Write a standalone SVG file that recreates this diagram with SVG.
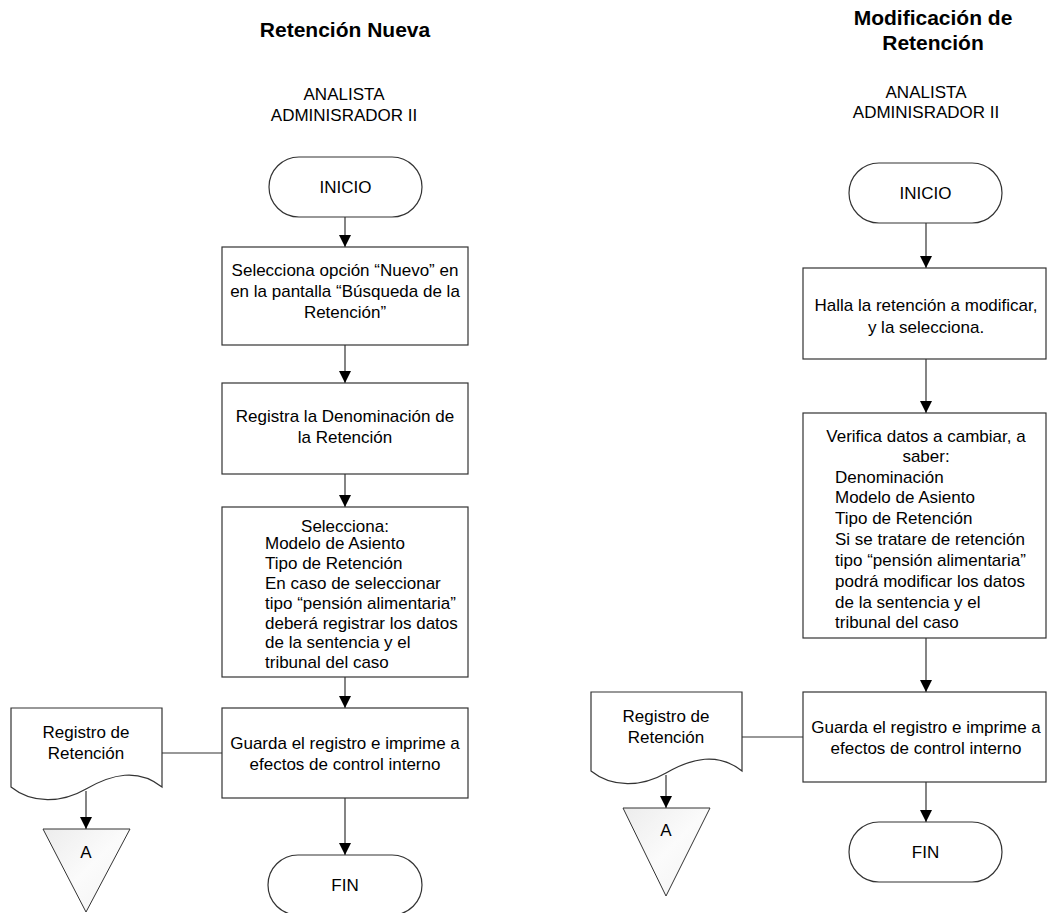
<svg xmlns="http://www.w3.org/2000/svg" width="1047" height="913" viewBox="0 0 1047 913">
<defs>
<style>
.t{font-family:"Liberation Sans",Arial,sans-serif;font-size:17px;fill:#000}
.c{text-anchor:middle}
.h{font-family:"Liberation Sans",Arial,sans-serif;font-size:21px;font-weight:bold;text-anchor:middle;fill:#000}
.s{fill:#fff;stroke:#333;stroke-width:1.2}
.cn{fill:none;stroke:#333;stroke-width:1.2}
.tri{fill:url(#g);stroke:#333;stroke-width:1}
</style>
<marker id="ar" markerUnits="userSpaceOnUse" markerWidth="12" markerHeight="14" refX="12" refY="6" orient="auto">
<path d="M0,0 L12,6 L0,12 z" fill="#000"/>
</marker>
<linearGradient id="g" x1="0" y1="0" x2="1" y2="1">
<stop offset="0" stop-color="#ececec"/>
<stop offset="0.5" stop-color="#fbfbfb"/>
<stop offset="1" stop-color="#f2f2f2"/>
</linearGradient>
</defs>
<rect width="1047" height="913" fill="#fff"/>

<g id="headers">
<text class="h" x="345" y="37">Retención Nueva</text>
<text class="t c" x="344" y="100">ANALISTA</text>
<text class="t c" x="344" y="121">ADMINISRADOR II</text>
<text class="h" x="933" y="25">Modificación de</text>
<text class="h" x="933" y="50">Retención</text>
<text class="t c" x="926" y="98">ANALISTA</text>
<text class="t c" x="926" y="118">ADMINISRADOR II</text>
</g>

<g id="connectors">
<line class="cn" x1="345" y1="217" x2="345" y2="247" marker-end="url(#ar)"/>
<line class="cn" x1="345" y1="345" x2="345" y2="383" marker-end="url(#ar)"/>
<line class="cn" x1="345" y1="474" x2="345" y2="507" marker-end="url(#ar)"/>
<line class="cn" x1="345" y1="677" x2="345" y2="708" marker-end="url(#ar)"/>
<line class="cn" x1="345" y1="798" x2="345" y2="855" marker-end="url(#ar)"/>
<line class="cn" x1="162" y1="753" x2="222" y2="753"/>
<line class="cn" x1="86" y1="791" x2="86" y2="829" marker-end="url(#ar)"/>
<line class="cn" x1="926" y1="223" x2="926" y2="268" marker-end="url(#ar)"/>
<line class="cn" x1="926" y1="359" x2="926" y2="413" marker-end="url(#ar)"/>
<line class="cn" x1="926" y1="638" x2="926" y2="692" marker-end="url(#ar)"/>
<line class="cn" x1="926" y1="782" x2="926" y2="822" marker-end="url(#ar)"/>
<line class="cn" x1="742" y1="737" x2="803" y2="737"/>
<line class="cn" x1="666" y1="775" x2="666" y2="808" marker-end="url(#ar)"/>
</g>

<g id="inicio1">
<rect class="s" x="269" y="157" width="153" height="60" rx="30" ry="30"/>
<text class="t c" x="345.5" y="193">INICIO</text>
</g>
<g id="box1a">
<rect class="s" x="222" y="247" width="246" height="98"/>
<text class="t c" x="345" y="276">Selecciona opción “Nuevo” en</text>
<text class="t c" x="345" y="297">en la pantalla “Búsqueda de la</text>
<text class="t c" x="345" y="318">Retención”</text>
</g>
<g id="box2a">
<rect class="s" x="222" y="383" width="246" height="91"/>
<text class="t c" x="345" y="422">Registra la Denominación de</text>
<text class="t c" x="345" y="443">la Retención</text>
</g>
<g id="box3a">
<rect class="s" x="222" y="507" width="246" height="170"/>
<text class="t c" x="345" y="532">Selecciona:</text>
<text class="t" x="265" y="549">Modelo de Asiento</text>
<text class="t" x="265" y="569">Tipo de Retención</text>
<text class="t" x="265" y="589">En caso de seleccionar</text>
<text class="t" x="265" y="609">tipo “pensión alimentaria”</text>
<text class="t" x="265" y="629">deberá registrar los datos</text>
<text class="t" x="265" y="648">de la sentencia y el</text>
<text class="t" x="265" y="668">tribunal del caso</text>
</g>
<g id="guarda1">
<rect class="s" x="222" y="708" width="246" height="90"/>
<text class="t c" x="345" y="749">Guarda el registro e imprime a</text>
<text class="t c" x="345" y="770">efectos de control interno</text>
</g>
<g id="doc1">
<path class="s" d="M11,708 H162 V787 C138,768 112,774 86,789 C62,803 32,804 11,787 Z"/>
<text class="t c" x="86" y="738">Registro de</text>
<text class="t c" x="86" y="759">Retención</text>
</g>
<g id="conn1">
<path class="tri" d="M43,829 H130 L86,912 Z"/>
<text class="t c" x="86" y="858">A</text>
</g>
<g id="fin1">
<rect class="s" x="268" y="855" width="154" height="60" rx="30" ry="30"/>
<text class="t c" x="345" y="891">FIN</text>
</g>

<g id="inicio2">
<rect class="s" x="849" y="163" width="153" height="60" rx="30" ry="30"/>
<text class="t c" x="925.5" y="199">INICIO</text>
</g>
<g id="box1b">
<rect class="s" x="803" y="268" width="243" height="91"/>
<text class="t c" x="926" y="311">Halla la retención a modificar,</text>
<text class="t c" x="926" y="333">y la selecciona.</text>
</g>
<g id="box2b">
<rect class="s" x="803" y="413" width="243" height="225"/>
<text class="t c" x="926" y="442">Verifica datos a cambiar, a</text>
<text class="t c" x="926" y="462">saber:</text>
<text class="t" x="835" y="483">Denominación</text>
<text class="t" x="835" y="503">Modelo de Asiento</text>
<text class="t" x="835" y="524">Tipo de Retención</text>
<text class="t" x="835" y="545">Si se tratare de retención</text>
<text class="t" x="835" y="566">tipo “pensión alimentaria”</text>
<text class="t" x="835" y="587">podrá modificar los datos</text>
<text class="t" x="835" y="608">de la sentencia y el</text>
<text class="t" x="835" y="628">tribunal del caso</text>
</g>
<g id="guarda2">
<rect class="s" x="803" y="692" width="243" height="90"/>
<text class="t c" x="926" y="733">Guarda el registro e imprime a</text>
<text class="t c" x="926" y="754">efectos de control interno</text>
</g>
<g id="doc2">
<path class="s" d="M591,692 H742 V771 C718,752 692,758 666,773 C642,787 612,788 591,771 Z"/>
<text class="t c" x="666" y="722">Registro de</text>
<text class="t c" x="666" y="743">Retención</text>
</g>
<g id="conn2">
<path class="tri" d="M623,808 H710 L666,896 Z"/>
<text class="t c" x="666" y="836">A</text>
</g>
<g id="fin2">
<rect class="s" x="849" y="822" width="153" height="60" rx="30" ry="30"/>
<text class="t c" x="925.5" y="858">FIN</text>
</g>
</svg>
